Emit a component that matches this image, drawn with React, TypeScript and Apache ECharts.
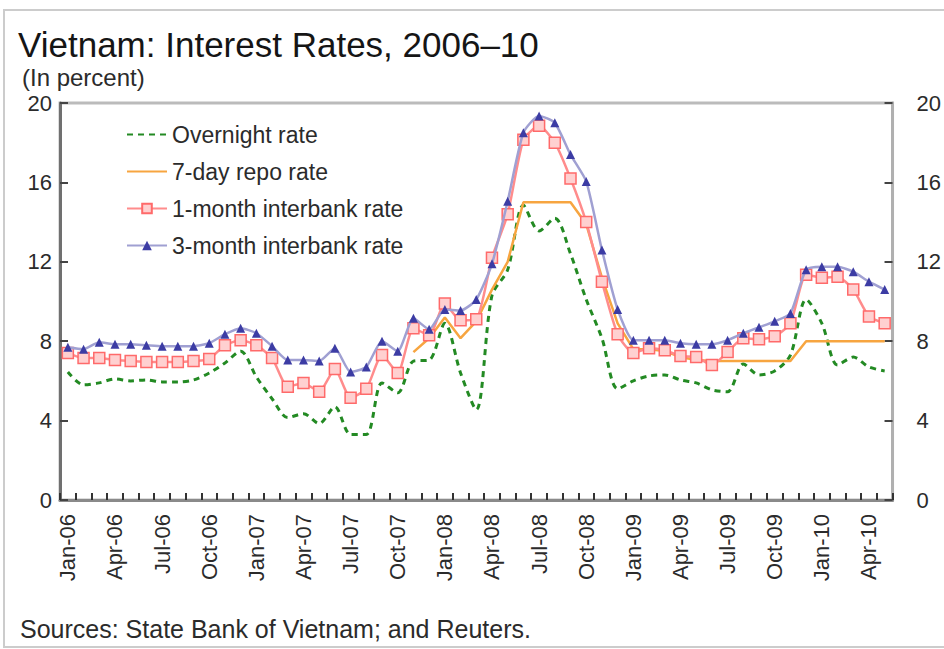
import React, { useEffect, useRef } from "react";
import * as echarts from "echarts";

const categories = [
  "Jan-06","Feb-06","Mar-06","Apr-06","May-06","Jun-06","Jul-06","Aug-06","Sep-06","Oct-06","Nov-06","Dec-06",
  "Jan-07","Feb-07","Mar-07","Apr-07","May-07","Jun-07","Jul-07","Aug-07","Sep-07","Oct-07","Nov-07","Dec-07",
  "Jan-08","Feb-08","Mar-08","Apr-08","May-08","Jun-08","Jul-08","Aug-08","Sep-08","Oct-08","Nov-08","Dec-08",
  "Jan-09","Feb-09","Mar-09","Apr-09","May-09","Jun-09","Jul-09","Aug-09","Sep-09","Oct-09","Nov-09","Dec-09",
  "Jan-10","Feb-10","Mar-10","Apr-10","May-10",
];

const overnightRate = [
  6.45, 5.8, 5.9, 6.1, 6.0, 6.05, 5.95, 5.95, 6.05, 6.4, 6.9, 7.5,
  6.2, 5.1, 4.15, 4.35, 3.85, 4.7, 3.3, 3.3, 5.9, 5.4, 7.0, 7.05,
  8.9, 6.4, 4.55, 10.3, 11.6, 14.85, 13.55, 14.2, 12.4, 10.1, 8.15, 5.6,
  6.0, 6.25, 6.3, 6.05, 5.9, 5.55, 5.45, 6.85, 6.3, 6.5, 7.3, 10.1,
  8.9, 6.8, 7.2, 6.7, 6.5,
];

const repoRate7Day = [
  null, null, null, null, null, null, null, null, null, null, null, null,
  null, null, null, null, null, null, null, null, null, null, 7.45, 8.15,
  9.2, 8.15, 9.0, 10.6, 12.0, 15.0, 15.0, 15.0, 15.0, 13.9, 11.2, 8.9,
  7.6, 7.6, 7.5, 7.2, 7.05, 7.0, 7.0, 7.0, 7.0, 7.0, 7.0, 8.0,
  8.0, 8.0, 8.0, 8.0, 8.0,
];

const interbank1Month = [
  7.4, 7.15, 7.15, 7.05, 7.0, 6.95, 6.95, 6.95, 7.0, 7.1, 7.8, 8.05,
  7.8, 7.15, 5.7, 5.9, 5.45, 6.6, 5.15, 5.6, 7.3, 6.4, 8.65, 8.3,
  9.9, 9.05, 9.1, 12.2, 14.4, 18.15, 18.85, 18.0, 16.2, 14.0, 11.0, 8.35,
  7.4, 7.65, 7.55, 7.25, 7.2, 6.8, 7.45, 8.15, 8.1, 8.25, 8.9, 11.35,
  11.2, 11.25, 10.6, 9.25, 8.9,
];

const interbank3Month = [
  7.7, 7.6, 7.95, 7.85, 7.85, 7.8, 7.75, 7.75, 7.75, 7.9, 8.35, 8.65,
  8.4, 7.75, 7.05, 7.05, 7.0, 7.65, 6.45, 6.7, 8.0, 7.5, 9.15, 8.6,
  9.6, 9.55, 10.1, 11.9, 15.05, 18.5, 19.35, 19.0, 17.4, 16.05, 12.6, 9.6,
  8.05, 8.05, 8.05, 7.9, 7.85, 7.85, 8.05, 8.4, 8.7, 9.0, 9.4, 11.6,
  11.75, 11.75, 11.5, 11.0, 10.6,
];

const seriesNames = [
  "Overnight rate",
  "7-day repo rate",
  "1-month interbank rate",
  "3-month interbank rate",
];

const FONT = "Liberation Sans, Arial, sans-serif";
const TEXT = "#2b2b2b";

export default function App() {
  const ref = useRef<HTMLDivElement>(null);

  useEffect(() => {
    if (!ref.current) return;
    const chart = echarts.init(ref.current, undefined, { renderer: "svg" });

    const yAxisCommon = {
      type: "value",
      min: 0,
      max: 20,
      interval: 4,
      splitLine: { show: false },
      axisTick: { show: true, inside: true, length: 8, lineStyle: { color: "#444", width: 2 } },
      axisLabel: { fontSize: 22, color: TEXT, fontFamily: FONT },
    };

    chart.setOption({
      animation: false,
      backgroundColor: "#ffffff",
      title: {
        text: "Vietnam: Interest Rates, 2006\u201310",
        left: 18,
        top: 27,
        padding: 0,
        textStyle: { fontSize: 35, fontWeight: "normal", color: "#151515", fontFamily: FONT },
      },
      graphic: [
        {
          type: "rect",
          shape: { x: 4, y: 10, width: 1000, height: 637 },
          style: { fill: "transparent", stroke: "#cccccc", lineWidth: 2 },
          silent: true,
        },
        {
          type: "text",
          left: 22,
          top: 65,
          style: { text: "(In percent)", fontSize: 24, fill: TEXT, fontFamily: FONT },
        },
        {
          type: "text",
          left: 20,
          top: 616,
          style: {
            text: "Sources: State Bank of Vietnam; and Reuters.",
            fontSize: 25,
            fill: TEXT,
            fontFamily: FONT,
          },
        },
      ],
      legend: {
        orient: "vertical",
        left: 126,
        top: 123,
        padding: 0,
        itemWidth: 40,
        itemHeight: 12,
        itemGap: 14,
        data: [
          { name: seriesNames[0], itemStyle: { opacity: 0 } },
          { name: seriesNames[1], itemStyle: { opacity: 0 } },
          { name: seriesNames[2] },
          { name: seriesNames[3] },
        ],
        textStyle: { fontSize: 23, color: TEXT, fontFamily: FONT },
      },
      grid: {
        left: 60,
        right: 47,
        top: 103,
        bottom: 149,
        show: true,
        borderColor: "#bbbbbb",
        borderWidth: 3,
      },
      xAxis: {
        type: "category",
        data: categories,
        boundaryGap: true,
        axisLine: { lineStyle: { color: "#8a8a8a", width: 3 } },
        axisTick: { show: true, inside: true, length: 7, interval: 0, lineStyle: { color: "#333", width: 2 } },
        axisLabel: { interval: 2, rotate: 90, margin: 14, fontSize: 22, color: TEXT, fontFamily: FONT },
      },
      yAxis: [
        {
          ...yAxisCommon,
          position: "left",
          axisLine: { show: true, lineStyle: { color: "#707070", width: 3 } },
          axisLabel: { ...yAxisCommon.axisLabel, margin: 8 },
        },
        {
          ...yAxisCommon,
          position: "right",
          axisLine: { show: true, lineStyle: { color: "#b0b0b0", width: 3 } },
          axisLabel: { ...yAxisCommon.axisLabel, margin: 24 },
        },
      ],
      series: [
        {
          name: seriesNames[0],
          type: "line",
          data: overnightRate,
          symbol: "none",
          smooth: 0.3,
          lineStyle: { color: "#238a23", width: 3, type: [6, 5] },
          itemStyle: { color: "#238a23" },
          z: 2,
        },
        {
          name: seriesNames[1],
          type: "line",
          data: repoRate7Day,
          symbol: "none",
          lineStyle: { color: "#f7a540", width: 2.5 },
          itemStyle: { color: "#f7a540" },
          z: 3,
        },
        {
          name: seriesNames[2],
          type: "line",
          data: interbank1Month,
          symbol: "rect",
          symbolSize: 11,
          showAllSymbol: true,
          smooth: 0.2,
          lineStyle: { color: "#ff8c8c", width: 2.5 },
          itemStyle: { color: "#ffd0d0", borderColor: "#ff6a6a", borderWidth: 1.5 },
          z: 4,
        },
        {
          name: seriesNames[3],
          type: "line",
          data: interbank3Month,
          symbol: "triangle",
          symbolSize: 9,
          showAllSymbol: true,
          smooth: 0.2,
          lineStyle: { color: "#a0a0d2", width: 2.5 },
          itemStyle: { color: "#3c3ca4" },
          z: 5,
        },
      ],
    });

    return () => chart.dispose();
  }, []);

  return (
    <div
      ref={ref}
      style={{ position: "fixed", left: 0, top: 0, width: 944, height: 649, background: "#fff" }}
    />
  );
}
